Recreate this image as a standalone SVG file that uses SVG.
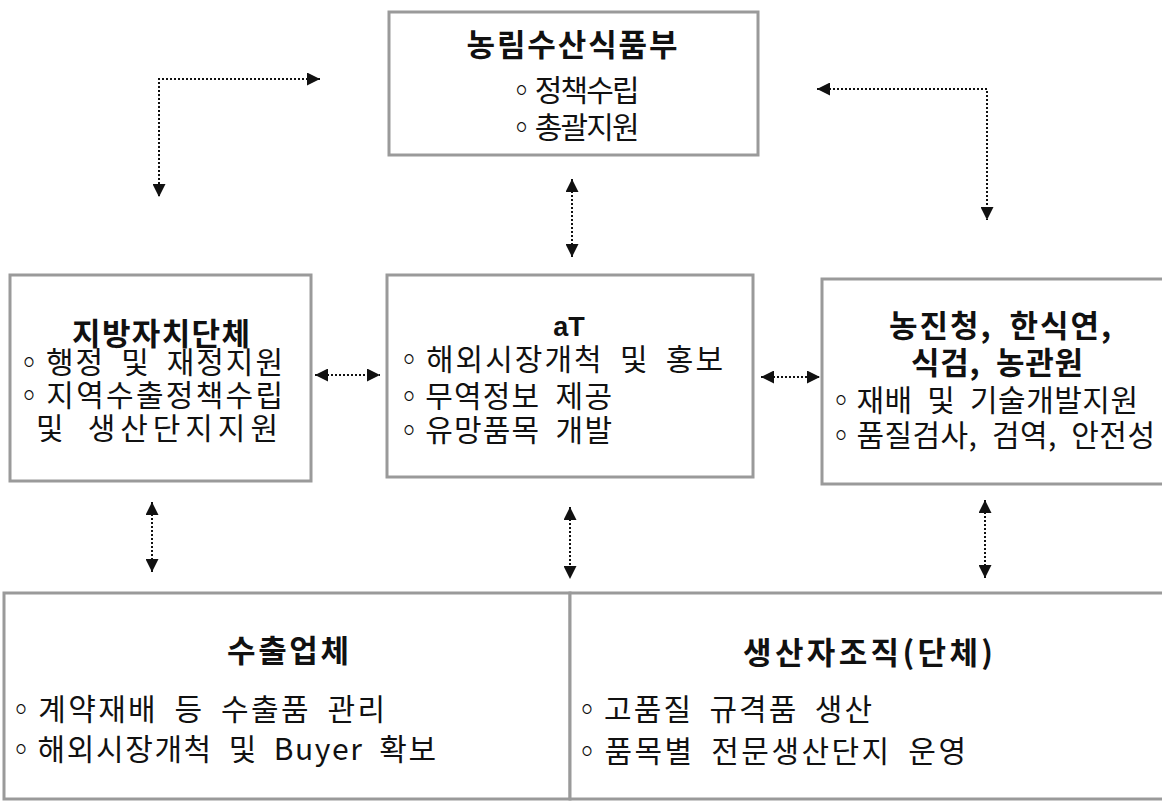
<svg xmlns="http://www.w3.org/2000/svg" width="1162" height="803" viewBox="0 0 1162 803">
<defs>
<marker id="ah" viewBox="0 0 10 10" refX="10" refY="5" markerWidth="13" markerHeight="13" markerUnits="userSpaceOnUse" orient="auto-start-reverse">
<path d="M0,0 L10,5 L0,10 z" fill="#111"/>
</marker>
<style>
.box{fill:#fff;stroke:#9a9a9a;stroke-width:3}
.t{font-family:"Noto Sans CJK KR","Noto Sans CJK JP",sans-serif;fill:#111}
.ti{font-size:31px;font-weight:bold}
.b{font-size:30px;word-spacing:0.25em}
.c{text-anchor:middle}
.con{fill:none;stroke:#111;stroke-width:2;stroke-dasharray:2 2;marker-start:url(#ah);marker-end:url(#ah)}
</style>
</defs>
<rect width="1162" height="803" fill="#fff"/>
<g id="connectors">
<path class="con" d="M320,79 H159 V197"/>
<path class="con" d="M817,89 H987 V220"/>
<path class="con" d="M572,179 V257"/>
<path class="con" d="M315,375 H380"/>
<path class="con" d="M761,377 H820"/>
<path class="con" d="M152,502 V572"/>
<path class="con" d="M570,507 V579"/>
<path class="con" d="M985,500 V578"/>
</g>
<g id="node-mafra">
<rect class="box" x="389" y="12" width="369" height="143"/>
<text class="t ti c" x="572" y="56" textLength="211" lengthAdjust="spacing">농림수산식품부</text>
<text class="t b c" x="573" y="101" textLength="133" lengthAdjust="spacing">◦정책수립</text>
<text class="t b c" x="573" y="138" textLength="133" lengthAdjust="spacing">◦총괄지원</text>
</g>
<g id="node-local">
<rect class="box" x="10" y="275" width="301" height="206"/>
<text class="t ti c" x="161" y="345" textLength="178" lengthAdjust="spacing">지방자치단체</text>
<text class="t b" x="14" y="373" textLength="269" lengthAdjust="spacing">◦행정 및 재정지원</text>
<text class="t b" x="14" y="406" textLength="269" lengthAdjust="spacing">◦지역수출정책수립</text>
<text class="t b" x="36" y="439" textLength="242" lengthAdjust="spacing">및 생산단지지원</text>
</g>
<g id="node-at">
<rect class="box" x="387" y="275" width="366" height="202"/>
<text class="t c" x="569" y="336" style="font-family:'Liberation Sans',sans-serif;font-size:27px;font-weight:bold">aT</text>
<text class="t b" x="394" y="370" textLength="329" lengthAdjust="spacing">◦해외시장개척 및 홍보</text>
<text class="t b" x="394" y="407" textLength="218" lengthAdjust="spacing">◦무역정보 제공</text>
<text class="t b" x="394" y="441" textLength="218" lengthAdjust="spacing">◦유망품목 개발</text>
</g>
<g id="node-rda">
<rect class="box" x="822" y="279" width="350" height="205"/>
<text class="t ti c" x="1000" y="337" style="word-spacing:0.25em" textLength="222" lengthAdjust="spacing">농진청, 한식연,</text>
<text class="t ti c" x="997" y="374" style="word-spacing:0.25em" textLength="172" lengthAdjust="spacing">식검, 농관원</text>
<text class="t b" x="826" y="411" textLength="312" lengthAdjust="spacing">◦재배 및 기술개발지원</text>
<text class="t b" x="826" y="446" textLength="329" lengthAdjust="spacing">◦품질검사, 검역, 안전성</text>
</g>
<g id="node-exporter">
<rect class="box" x="4" y="593" width="566" height="206"/>
<text class="t ti c" x="288" y="662" textLength="122" lengthAdjust="spacing">수출업체</text>
<text class="t b" x="6" y="720" textLength="379" lengthAdjust="spacing">◦계약재배 등 수출품 관리</text>
<text class="t b" x="6" y="760" textLength="430" lengthAdjust="spacing">◦해외시장개척 및 Buyer 확보</text>
</g>
<g id="node-producer">
<rect class="box" x="570" y="593" width="600" height="206"/>
<text class="t ti c" x="868" y="664" textLength="250" lengthAdjust="spacing">생산자조직(단체)</text>
<text class="t b" x="572" y="720" textLength="300" lengthAdjust="spacing">◦고품질 규격품 생산</text>
<text class="t b" x="572" y="762" textLength="394" lengthAdjust="spacing">◦품목별 전문생산단지 운영</text>
</g>
</svg>
